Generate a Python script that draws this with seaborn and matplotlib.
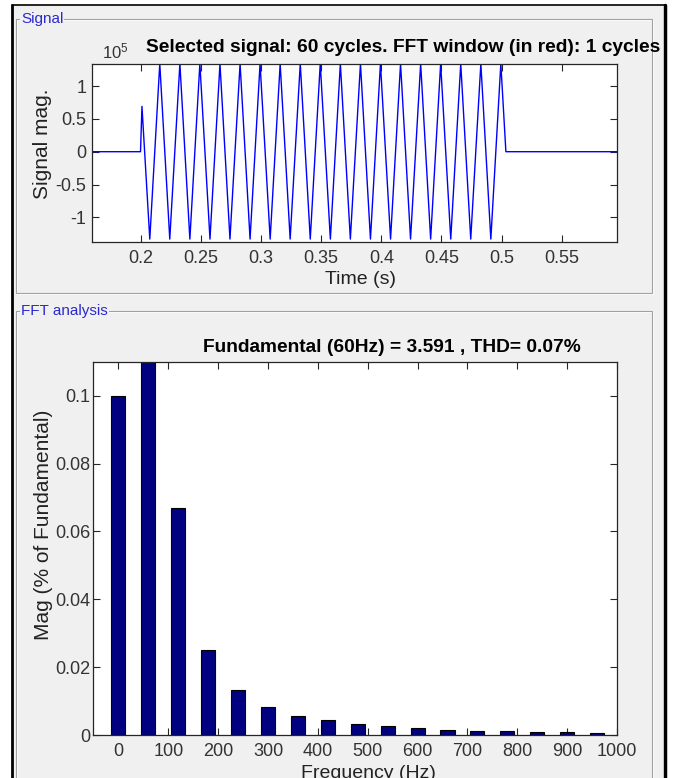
import pandas as pd
import matplotlib.pyplot as plt
from matplotlib.patches import Rectangle
from matplotlib.lines import Line2D
import seaborn as sns

sns.set_theme(style='ticks')
plt.rcParams['font.family'] = ['Liberation Sans Narrow', 'Liberation Sans', 'DejaVu Sans']

# --- signal (units of 1e5) ---
sig_start = [0.1597, 0.2000, 0.2012]
sig_start_mag = [0.0, 0.0, 0.69]
trough_times = [0.2077, 0.2243, 0.2410, 0.2577, 0.2743, 0.2910, 0.3077, 0.3243, 0.3410,
                0.3577, 0.3743, 0.3910, 0.4077, 0.4243, 0.4410, 0.4577, 0.4743, 0.4910]
peak_times = [0.2160, 0.2327, 0.2493, 0.2660, 0.2827, 0.2993, 0.3160, 0.3327, 0.3493,
              0.3660, 0.3827, 0.3993, 0.4160, 0.4327, 0.4493, 0.4660, 0.4827, 0.4993]
peak_level = 1.34
trough_level = -1.33
sig_end = [0.5035, 0.5958]
sig_end_mag = [0.0, 0.0]

time_ticks = [0.2, 0.25, 0.3, 0.35, 0.4, 0.45, 0.5, 0.55]
time_tick_labels = ['0.2', '0.25', '0.3', '0.35', '0.4', '0.45', '0.5', '0.55']
sig_ticks = [-1, -0.5, 0, 0.5, 1]
sig_tick_labels = ['-1', '-0.5', '0', '0.5', '1']

# --- FFT harmonics (% of fundamental) ---
fft_freq = [0, 60, 120, 180, 240, 300, 360, 420, 480, 540, 600, 660, 720, 780, 840, 900, 960]
fft_mag = [0.100, 100.0, 0.0668, 0.0249, 0.0133, 0.0083, 0.0056, 0.0043, 0.0033,
           0.0026, 0.0020, 0.0016, 0.0013, 0.0013, 0.0010, 0.0010, 0.0007]
freq_ticks = list(range(0, 1001, 100))
mag_ticks = [0, 0.02, 0.04, 0.06, 0.08, 0.1]
mag_tick_labels = ['0', '0.02', '0.04', '0.06', '0.08', '0.1']

W, H = 674, 778


def fx(x):
    return x / W


def fy(y):
    return 1 - y / H


def build_signal():
    t = list(sig_start)
    v = list(sig_start_mag)
    for tr, pk in zip(trough_times, peak_times):
        t += [tr, pk]
        v += [trough_level, peak_level]
    t += sig_end
    v += sig_end_mag
    return pd.DataFrame({'time': t, 'mag': v})


def group_box(fig, x0, y0, x1, y1, label):
    fig.add_artist(Rectangle((fx(x0 + 1), fy(y1 + 1)), fx(x1) - fx(x0), fy(y0 + 1) - fy(y1 + 1),
                             transform=fig.transFigure, facecolor='none', edgecolor='white', lw=0.8))
    fig.add_artist(Rectangle((fx(x0), fy(y1)), fx(x1) - fx(x0), fy(y0) - fy(y1),
                             transform=fig.transFigure, facecolor='none', edgecolor='#a0a0a0', lw=0.8))
    fig.text(fx(x0 + 5), fy(y0), label, color='#2a2ad0', fontsize=11, ha='left', va='center',
             bbox=dict(facecolor='#f0f0f0', edgecolor='none', pad=0.5))


def style_axes(ax):
    ax.set_facecolor('white')
    for s in ax.spines.values():
        s.set_color('#262626')
        s.set_linewidth(0.9)
        s.set_visible(True)
    ax.tick_params(direction='in', top=True, right=True, length=5, width=0.8,
                   color='#262626', labelsize=13, labelcolor='#333333', pad=4)


fig = plt.figure(figsize=(W / 100, H / 100), dpi=100)
fig.patch.set_facecolor('white')

# window background and frame
fig.add_artist(Rectangle((fx(13), 0), fx(663) - fx(13), fy(5), transform=fig.transFigure,
                         facecolor='#f0f0f0', edgecolor='none', zorder=-10))
fig.add_artist(Line2D([fx(12.5), fx(12.5)], [0, fy(5)], color='black', lw=2))
fig.add_artist(Line2D([fx(12), fx(665)], [fy(5), fy(5)], color='black', lw=1.2))
fig.add_artist(Line2D([fx(664.5), fx(664.5)], [0, fy(5)], color='black', lw=2.5))

group_box(fig, 16, 19, 652, 293, 'Signal')
group_box(fig, 16, 311, 652, 800, 'FFT analysis')

# --- signal axes ---
ax1 = fig.add_axes([fx(92), fy(241.7), fx(617) - fx(92), fy(64) - fy(241.7)])
sns.lineplot(data=build_signal(), x='time', y='mag', ax=ax1, color='#0000ff', lw=1.0,
             sort=False, estimator=None)
ax1.set_xlim(0.1597, 0.5958)
ax1.set_ylim(-1.37, 1.335)
ax1.set_xticks(time_ticks)
ax1.set_xticklabels(time_tick_labels)
ax1.set_yticks(sig_ticks)
ax1.set_yticklabels(sig_tick_labels)
style_axes(ax1)
ax1.tick_params(axis='x', pad=6)
ax1.set_xlabel('Time (s)', fontsize=14, color='#222222')
ax1.xaxis.set_label_coords(0.512, -0.165)
ax1.set_ylabel('Signal mag.', fontsize=15, color='#222222')
ax1.yaxis.set_label_coords(-0.076, 0.553)
# exponent marker of the y axis, as MATLAB shows it
fig.text(fx(102), fy(51), r'$\mathregular{10^{5}}$', fontsize=12, color='#333333',
         ha='left', va='center')
fig.text(fx(403), fy(48), 'Selected signal: 60 cycles. FFT window (in red): 1 cycles',
         fontsize=13.8, fontweight='bold', color='black', ha='center', va='center')

# --- FFT axes ---
ax2 = fig.add_axes([fx(93.5), fy(735), fx(617) - fx(93.5), fy(361.7) - fy(735)])
sns.barplot(x=fft_freq, y=fft_mag, ax=ax2, native_scale=True, width=0.47, errorbar=None,
            color='#000080', saturation=1, edgecolor='black', linewidth=0.8)
ax2.set_xlim(-50, 1000)
ax2.set_ylim(0, 0.11)
ax2.set_xticks(freq_ticks)
ax2.set_xticklabels([str(f) for f in freq_ticks])
ax2.set_yticks(mag_ticks)
ax2.set_yticklabels(mag_tick_labels)
style_axes(ax2)
ax2.tick_params(axis='x', pad=6)
ax2.tick_params(axis='y', pad=2)
ax2.set_xlabel('Frequency (Hz)', fontsize=14, color='#222222')
ax2.xaxis.set_label_coords(0.526, -0.08)
ax2.set_ylabel('Mag (% of Fundamental)', fontsize=15, color='#222222')
ax2.yaxis.set_label_coords(-0.077, 0.563)
fig.text(fx(392), fy(347), 'Fundamental (60Hz) = 3.591 , THD= 0.07%',
         fontsize=13.8, fontweight='bold', color='black', ha='center', va='center')

fig.savefig('out.png', dpi=100)
